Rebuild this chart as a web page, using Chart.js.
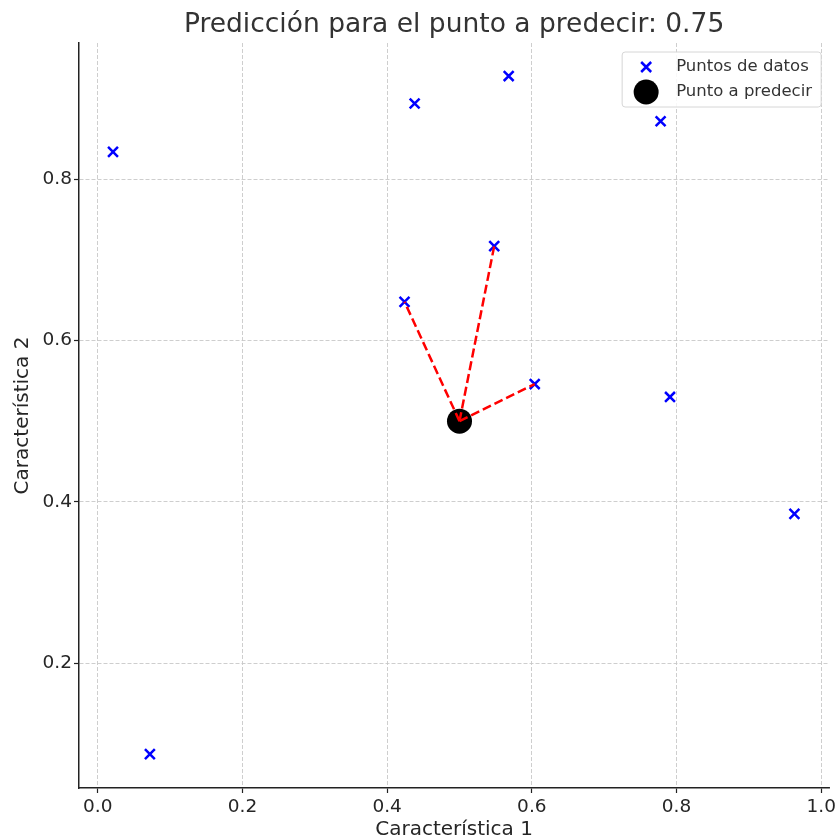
<!DOCTYPE html>
<html>
<head>
<meta charset="utf-8">
<script src="https://cdn.jsdelivr.net/npm/chart.js@4.4.0/dist/chart.umd.min.js"></script>
<style>
  html, body { margin: 0; padding: 0; background: #fff; }
  #wrap { width: 839px; height: 838px; }
</style>
</head>
<body>
<div id="wrap"><canvas id="knnChart" width="839" height="838"></canvas></div>
<script>
/* DATA */
const featX = [0.021, 0.072, 0.438, 0.568, 0.778, 0.548, 0.424, 0.604, 0.791, 0.963];
const featY = [0.834, 0.087, 0.894, 0.928, 0.872, 0.717, 0.648, 0.546, 0.530, 0.385];
const queryPoint = [0.5, 0.5];
const neighborIdx = [6, 5, 7];
const xTicks = [0.0, 0.2, 0.4, 0.6, 0.8, 1.0];
const yTicks = [0.2, 0.4, 0.6, 0.8];
const titleText = "Predicción para el punto a predecir: 0.75";

const FONT = "'DejaVu Sans', sans-serif";
const TXT = "#262626";

const points = featX.map((x, i) => ({ x: x, y: featY[i] }));
const query = { x: queryPoint[0], y: queryPoint[1] };

/* lines from query to each neighbour */
const lineSets = neighborIdx.map(i => ({
  type: "line",
  label: "_vecino" + i,
  data: [query, points[i]],
  borderColor: "red",
  borderWidth: 2.5,
  borderDash: [9, 4],
  pointRadius: 0,
  fill: false,
  order: 0
}));

/* LEGEND (drawn inside the plot, top right) */
const innerLegend = {
  id: "innerLegend",
  afterDraw(chart) {
    const ctx = chart.ctx;
    const a = chart.chartArea;
    const w = 199, h = 55;
    const x0 = a.right - 8 - w, y0 = a.top + 9;
    ctx.save();
    ctx.beginPath();
    const r = 3;
    ctx.moveTo(x0 + r, y0);
    ctx.arcTo(x0 + w, y0, x0 + w, y0 + h, r);
    ctx.arcTo(x0 + w, y0 + h, x0, y0 + h, r);
    ctx.arcTo(x0, y0 + h, x0, y0, r);
    ctx.arcTo(x0, y0, x0 + w, y0, r);
    ctx.closePath();
    ctx.fillStyle = "rgba(255,255,255,0.85)";
    ctx.fill();
    ctx.strokeStyle = "#d6d6d6";
    ctx.lineWidth = 1;
    ctx.stroke();

    // x marker
    const mx = x0 + 24, my1 = y0 + 15, my2 = y0 + 40;
    ctx.strokeStyle = "blue";
    ctx.lineWidth = 2.5;
    ctx.beginPath();
    ctx.moveTo(mx - 5, my1 - 5); ctx.lineTo(mx + 5, my1 + 5);
    ctx.moveTo(mx - 5, my1 + 5); ctx.lineTo(mx + 5, my1 - 5);
    ctx.stroke();
    // circle marker
    ctx.fillStyle = "black";
    ctx.beginPath();
    ctx.arc(mx, my2, 12.5, 0, Math.PI * 2);
    ctx.fill();

    ctx.fillStyle = "#333";
    ctx.font = "16.5px " + FONT;
    ctx.textBaseline = "middle";
    ctx.textAlign = "left";
    ctx.fillText(chart.data.datasets[0].label, x0 + 54, my1);
    ctx.fillText(chart.data.datasets[1].label, x0 + 54, my2);
    ctx.restore();
  }
};

const gridOpts = {
  color: "#c8c8c8",
  lineWidth: 0.9,
  tickColor: "#222",
  tickLength: 5,
  tickWidth: 1.2,
  tickBorderDash: []
};

new Chart(document.getElementById("knnChart"), {
  type: "scatter",
  data: {
    datasets: [
      {
        label: "Puntos de datos",
        data: points,
        pointStyle: "crossRot",
        pointRadius: 7,
        borderColor: "blue",
        backgroundColor: "blue",
        pointBorderWidth: 2.5,
        order: 2
      },
      {
        label: "Punto a predecir",
        data: [query],
        pointStyle: "circle",
        pointRadius: 12.5,
        borderWidth: 0,
        backgroundColor: "black",
        borderColor: "black",
        order: 1
      },
      ...lineSets
    ]
  },
  options: {
    responsive: false,
    animation: false,
    layout: { autoPadding: false, padding: { top: 0, right: 9, bottom: 0, left: 0 } },
    plugins: {
      legend: { display: false },
      tooltip: { enabled: false },
      title: {
        display: true,
        text: titleText,
        fullSize: false,
        color: "#333",
        font: { family: FONT, size: 26.5, weight: "normal", lineHeight: 1.2 },
        padding: { top: 9, bottom: 2.2 }
      }
    },
    scales: {
      x: {
        type: "linear",
        min: -0.026,
        max: 1.011,
        afterBuildTicks: s => { s.ticks = xTicks.map(v => ({ value: v })); },
        afterFit: s => { s.height = 50; },
        ticks: {
          color: TXT,
          font: { family: FONT, size: 18.5 },
          padding: 3,
          maxRotation: 0,
          callback: v => v.toFixed(1)
        },
        grid: gridOpts,
        border: { display: true, color: "#222", width: 1.5, dash: [4, 2] },
        title: {
          display: true,
          text: "Característica 1",
          color: TXT,
          font: { family: FONT, size: 20, lineHeight: 0.8 },
          padding: { top: 0, bottom: 0 }
        }
      },
      y: {
        type: "linear",
        min: 0.045,
        max: 0.969,
        afterBuildTicks: s => { s.ticks = yTicks.map(v => ({ value: v })); },
        afterFit: s => { s.width = 79; },
        ticks: {
          color: TXT,
          font: { family: FONT, size: 18.5 },
          padding: 2,
          callback: v => v.toFixed(1)
        },
        grid: gridOpts,
        border: { display: true, color: "#222", width: 1.5, dash: [4, 2] },
        title: {
          display: true,
          text: "Característica 2",
          color: TXT,
          font: { family: FONT, size: 20, lineHeight: 1.2 },
          padding: { top: 11, bottom: 0 }
        }
      }
    }
  },
  plugins: [innerLegend]
});
</script>
</body>
</html>
